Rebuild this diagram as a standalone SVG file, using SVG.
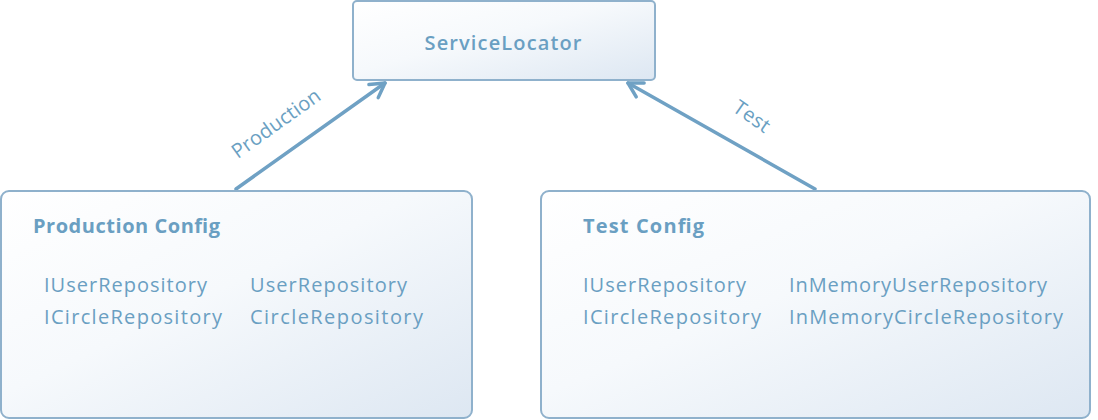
<svg xmlns="http://www.w3.org/2000/svg" width="1098" height="420" viewBox="0 0 1098 420">
<defs>
<linearGradient id="g" x1="0" y1="0" x2="1" y2="1">
<stop offset="0" stop-color="#ffffff"/>
<stop offset="0.45" stop-color="#f6f9fc"/>
<stop offset="1" stop-color="#dde7f2"/>
</linearGradient>
<marker id="ah" viewBox="0 0 20 20" refX="17" refY="10" markerWidth="20" markerHeight="20" markerUnits="userSpaceOnUse" orient="auto">
<path d="M3,2 L17,10 L3,18" fill="none" stroke="#6fa1c4" stroke-width="3.5" stroke-linecap="round" stroke-linejoin="round"/>
</marker>
</defs>
<style>
.box{fill:url(#g);stroke:#8fb1cc;stroke-width:2}
.t{font-family:"Open Sans","Noto Sans",sans-serif;font-size:20px;fill:#6a9fc2}
.b{font-weight:bold}
.m{font-weight:600}
.c{text-anchor:middle}
.edge{fill:none;stroke:#6fa1c4;stroke-width:3.5;stroke-linecap:round}
</style>
<g id="connectors">
<line class="edge" x1="236" y1="189" x2="385" y2="83" marker-end="url(#ah)"/>
<line class="edge" x1="815" y1="189" x2="628" y2="83" marker-end="url(#ah)"/>
<text class="t c" transform="translate(280,129) rotate(-35.5)" textLength="104">Production</text>
<text class="t c" transform="translate(748,122) rotate(35)" textLength="40">Test</text>
</g>
<g id="service-locator">
<rect class="box" x="353" y="1" width="302" height="79" rx="4"/>
<text class="t c m" x="503" y="50" textLength="157">ServiceLocator</text>
</g>
<g id="production-config">
<rect class="box" x="1" y="191" width="471" height="227" rx="8"/>
<text class="t b" x="33" y="233" textLength="187">Production Config</text>
<text class="t" x="44" y="292" textLength="163">IUserRepository</text>
<text class="t" x="44" y="324" textLength="178">ICircleRepository</text>
<text class="t" x="250" y="292" textLength="157">UserRepository</text>
<text class="t" x="250" y="324" textLength="173">CircleRepository</text>
</g>
<g id="test-config">
<rect class="box" x="541" y="191" width="549" height="227" rx="8"/>
<text class="t b" x="583" y="233" textLength="121">Test Config</text>
<text class="t" x="583" y="292" textLength="163">IUserRepository</text>
<text class="t" x="583" y="324" textLength="178">ICircleRepository</text>
<text class="t" x="789" y="292" textLength="258">InMemoryUserRepository</text>
<text class="t" x="789" y="324" textLength="274">InMemoryCircleRepository</text>
</g>
</svg>
